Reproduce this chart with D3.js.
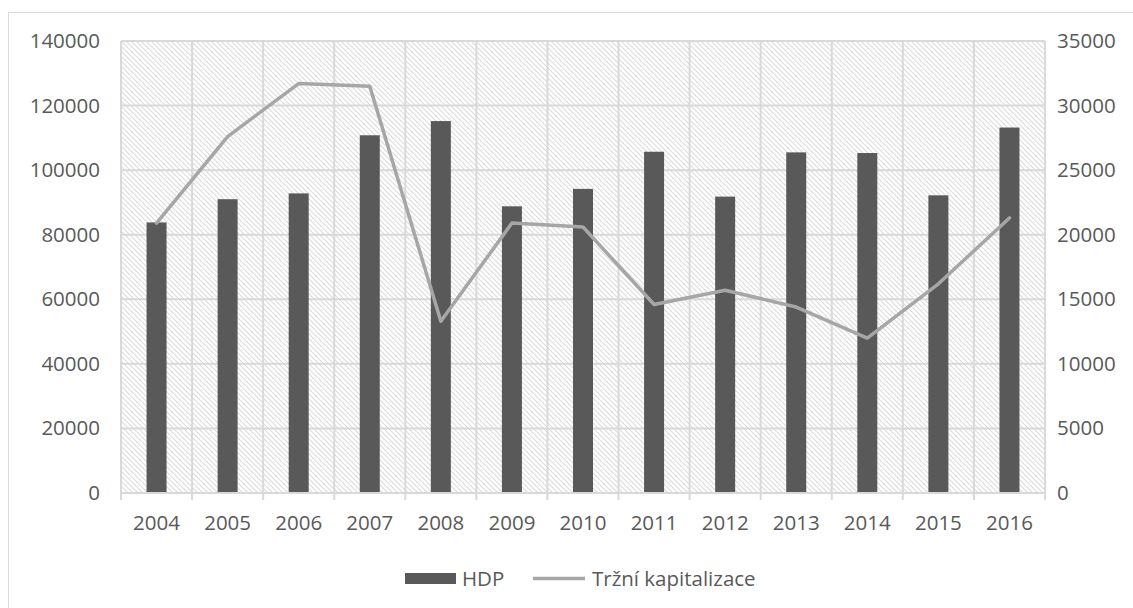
<!DOCTYPE html>
<html>
<head>
<meta charset="utf-8">
<script src="https://cdn.jsdelivr.net/npm/d3@7/dist/d3.min.js"></script>
<style>
  html, body { margin: 0; padding: 0; background: #fff; }
  svg { display: block; }
  text { font-family: "Open Sans", sans-serif; fill: #595959; }
</style>
</head>
<body>
<script>
const years = ["2004","2005","2006","2007","2008","2009","2010","2011","2012","2013","2014","2015","2016"];
const hdp = [83800, 91000, 92800, 110800, 115200, 88800, 94200, 105700, 91800, 105500, 105300, 92200, 113200];
const kapitalizace = [20900, 27600, 31700, 31500, 13300, 20900, 20600, 14600, 15700, 14400, 12000, 16200, 21300];
const leftTicks = [0, 20000, 40000, 60000, 80000, 100000, 120000, 140000];
const rightTicks = [0, 5000, 10000, 15000, 20000, 25000, 30000, 35000];
const seriesNames = ["HDP", "Tržní kapitalizace"];

const W = 1133, H = 608;
const plot = { left: 121, right: 1045, top: 41, bottom: 493 };
const FS = "20.5px";

const svg = d3.select("body").append("svg").attr("width", W).attr("height", H);

// hatch pattern
const defs = svg.append("defs");
const pat = defs.append("pattern").attr("id", "hatch")
  .attr("patternUnits", "userSpaceOnUse").attr("width", 5).attr("height", 5);
pat.append("rect").attr("width", 5).attr("height", 5).attr("fill", "#fff");
pat.append("path").attr("d", "M-1,-1 L6,6 M-1,4 L1,6 M4,-1 L6,1")
  .attr("stroke", "#dcdcdc").attr("stroke-width", 1.1);

// outer frame
svg.append("rect").attr("x", 8.5).attr("y", 12.5).attr("width", 1200).attr("height", 700)
  .attr("fill", "none").attr("stroke", "#d9d9d9").attr("stroke-width", 1);

const x = d3.scaleBand().domain(years).range([plot.left, plot.right]).paddingInner(0).paddingOuter(0);
const yL = d3.scaleLinear().domain([0, 140000]).range([plot.bottom, plot.top]);
const yR = d3.scaleLinear().domain([0, 35000]).range([plot.bottom, plot.top]);

// plot background
svg.append("rect").attr("x", plot.left).attr("y", plot.top)
  .attr("width", plot.right - plot.left).attr("height", plot.bottom - plot.top)
  .attr("fill", "url(#hatch)");

// horizontal gridlines
svg.append("g").selectAll("line").data(leftTicks).join("line")
  .attr("x1", plot.left).attr("x2", plot.right)
  .attr("y1", d => yL(d)).attr("y2", d => yL(d))
  .attr("stroke", "#d9d9d9").attr("stroke-width", 2);

// vertical gridlines (category boundaries)
const bounds = years.map(y => x(y)).concat([x(years[years.length - 1]) + x.bandwidth()]);
svg.append("g").selectAll("line").data(bounds).join("line")
  .attr("x1", d => d).attr("x2", d => d)
  .attr("y1", plot.top).attr("y2", plot.bottom + 7)
  .attr("stroke", "#d9d9d9").attr("stroke-width", 2);

// bars
const barW = 20;
svg.append("g").selectAll("rect").data(hdp).join("rect")
  .attr("x", (d, i) => x(years[i]) + x.bandwidth() / 2 - barW / 2)
  .attr("width", barW)
  .attr("y", d => yL(d))
  .attr("height", d => yL(0) - yL(d))
  .attr("fill", "#595959");

// x axis line
svg.append("line").attr("x1", plot.left).attr("x2", plot.right)
  .attr("y1", plot.bottom).attr("y2", plot.bottom)
  .attr("stroke", "#d9d9d9").attr("stroke-width", 2);

// line series
const line = d3.line().x((d, i) => x(years[i]) + x.bandwidth() / 2).y(d => yR(d));
svg.append("path").datum(kapitalizace).attr("d", line)
  .attr("fill", "none").attr("stroke", "#a6a6a6").attr("stroke-width", 3.5)
  .attr("stroke-linejoin", "round").attr("stroke-linecap", "round");

// left axis labels
const axL = svg.append("g").attr("transform", `translate(${plot.left},0)`)
  .call(d3.axisLeft(yL).tickValues(leftTicks).tickSize(0).tickPadding(21).tickFormat(d3.format("d")));
axL.select(".domain").remove();
axL.selectAll("text").style("font-size", FS).style("font-family", "Open Sans").attr("fill", "#595959");

// right axis labels
const axR = svg.append("g").attr("transform", `translate(${plot.right},0)`)
  .call(d3.axisRight(yR).tickValues(rightTicks).tickSize(0).tickPadding(12).tickFormat(d3.format("d")));
axR.select(".domain").remove();
axR.selectAll("text").style("font-size", FS).style("font-family", "Open Sans").attr("fill", "#595959");

// x axis labels
const axB = svg.append("g").attr("transform", `translate(0,${plot.bottom})`)
  .call(d3.axisBottom(x).tickSize(0).tickPadding(22));
axB.select(".domain").remove();
axB.selectAll("text").style("font-size", FS).style("font-family", "Open Sans").attr("fill", "#595959");

// legend
const lg = svg.append("g");
lg.append("rect").attr("x", 405).attr("y", 573).attr("width", 51).attr("height", 11).attr("fill", "#595959");
lg.append("text").attr("x", 462).attr("y", 586).style("font-size", FS).text(seriesNames[0]);
lg.append("line").attr("x1", 533).attr("x2", 585).attr("y1", 578.5).attr("y2", 578.5)
  .attr("stroke", "#a6a6a6").attr("stroke-width", 3.5);
lg.append("text").attr("x", 592).attr("y", 586).style("font-size", FS).text(seriesNames[1]);
</script>
</body>
</html>
